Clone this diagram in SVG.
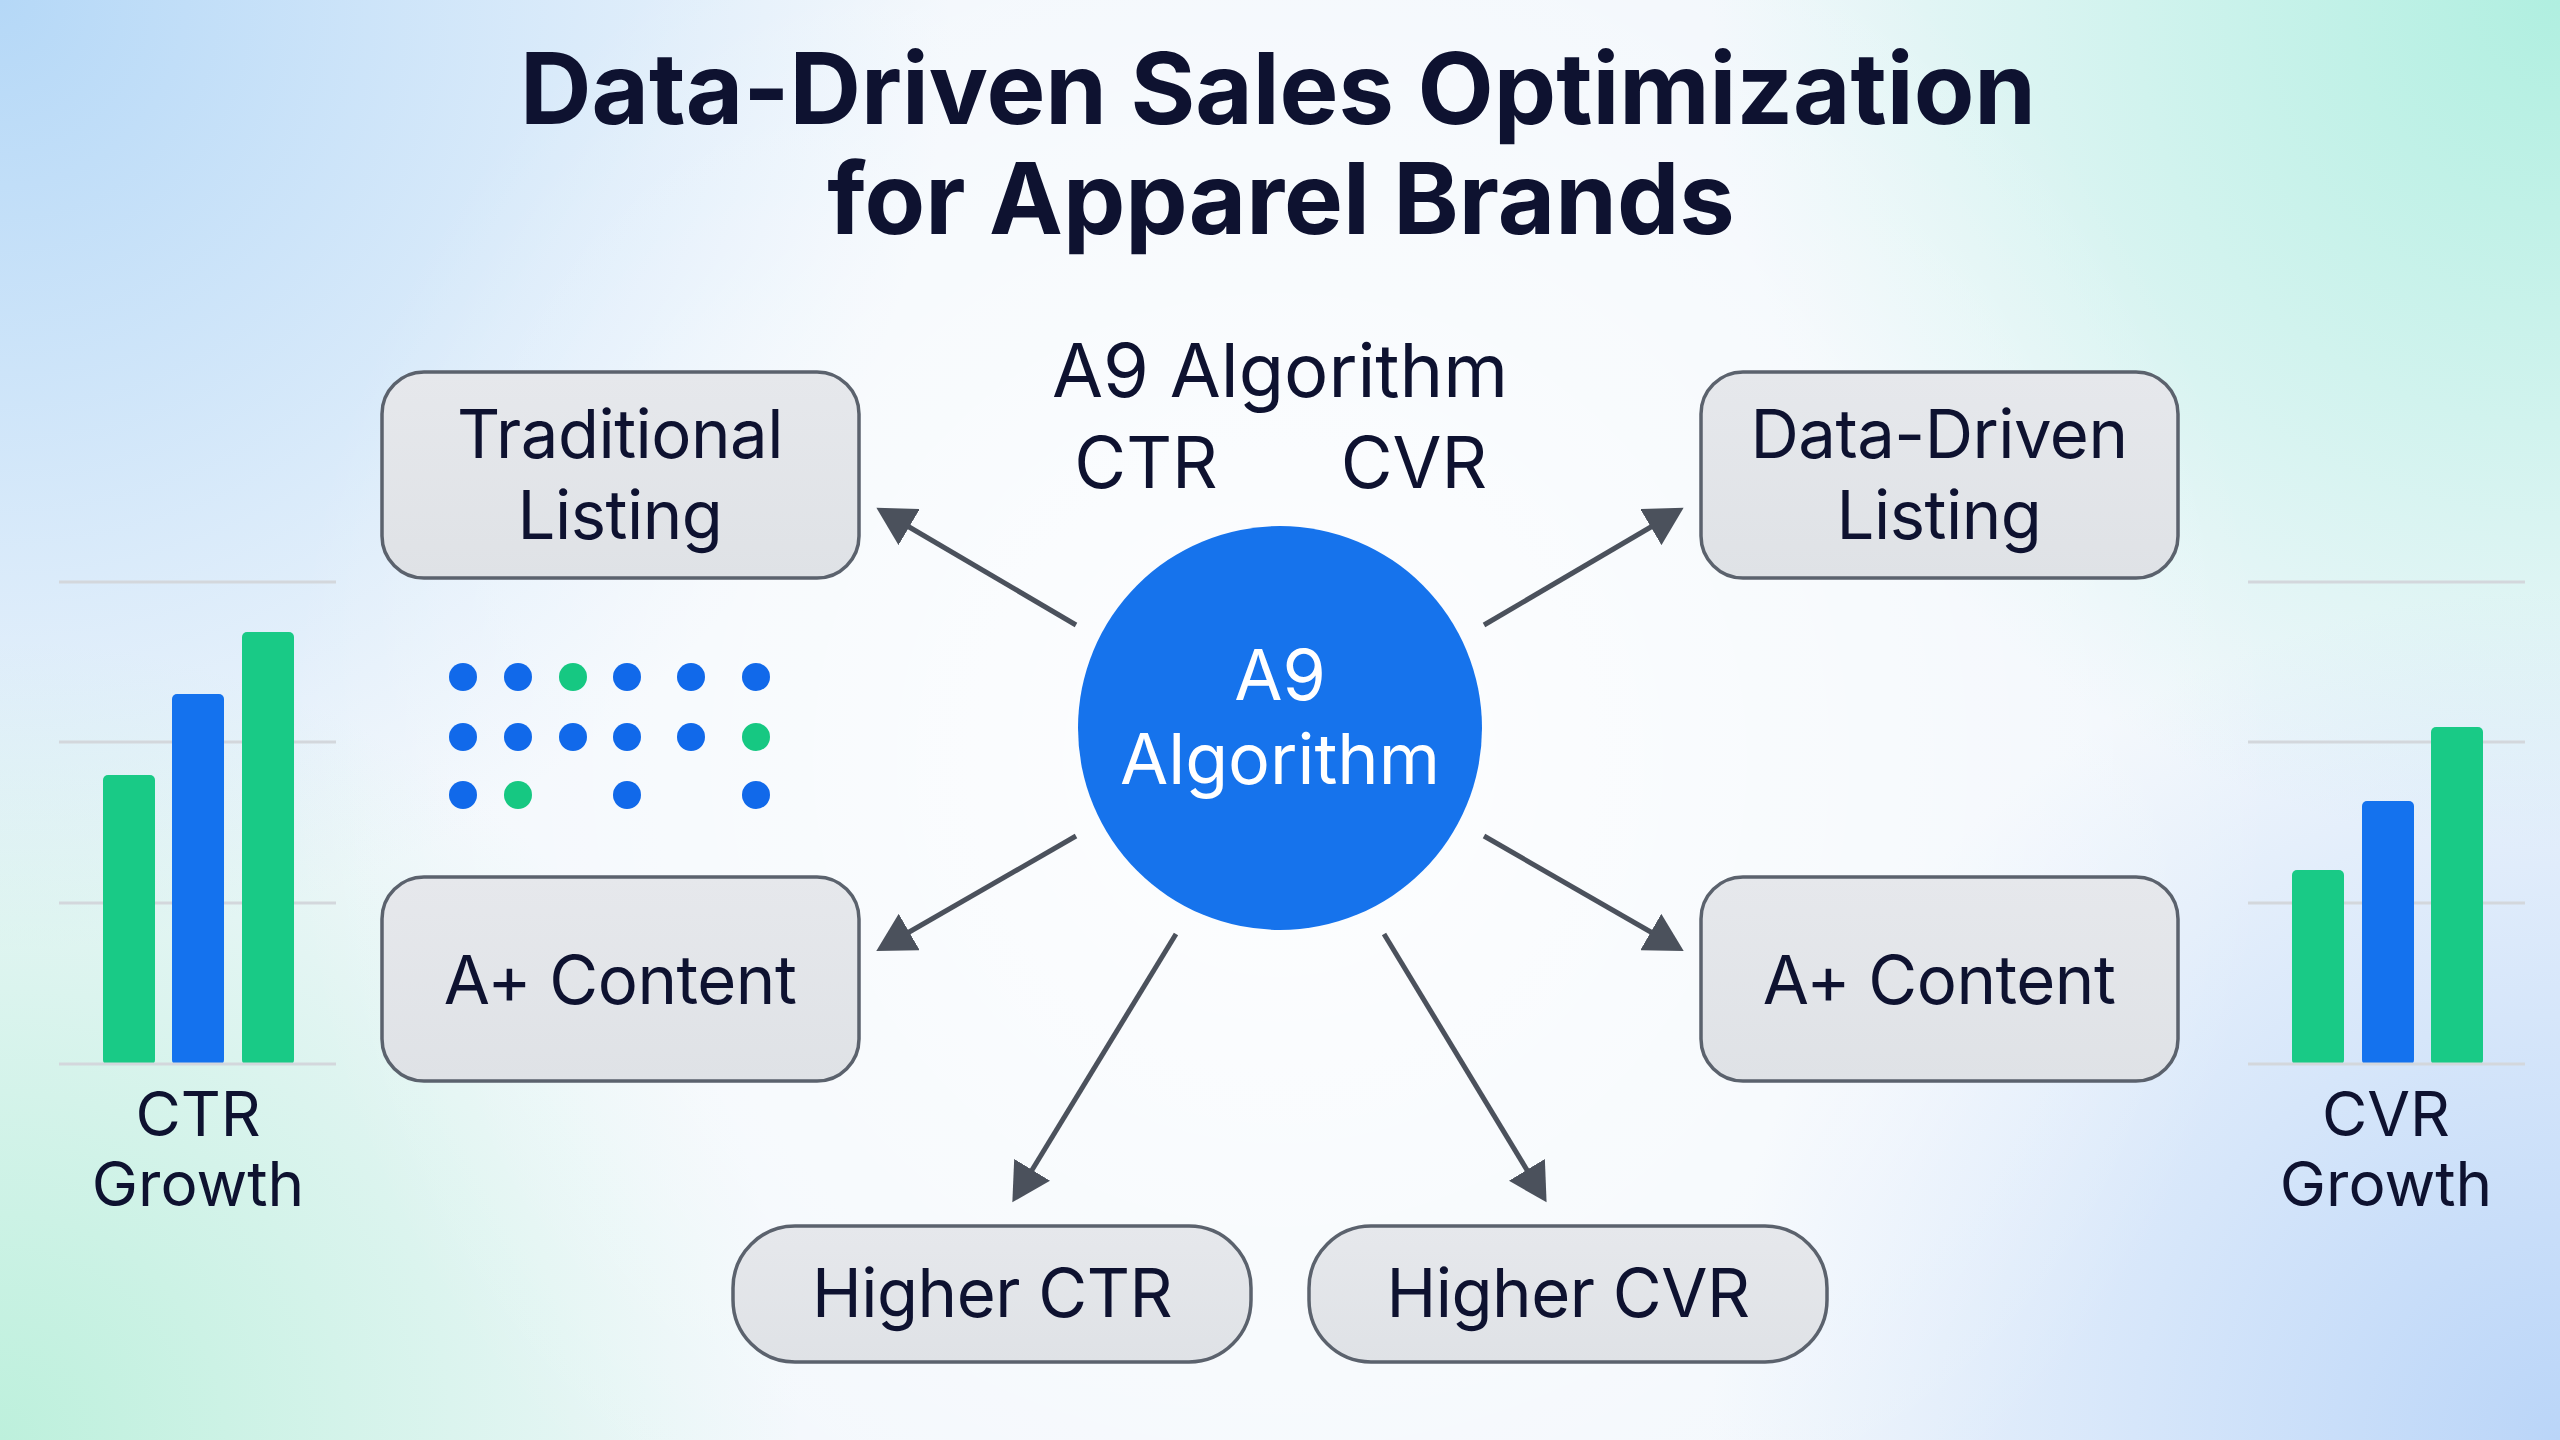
<svg xmlns="http://www.w3.org/2000/svg" width="2560" height="1440" viewBox="0 0 2560 1440">
  <defs>
    <radialGradient id="gTL" cx="0" cy="0" r="950" gradientUnits="userSpaceOnUse">
      <stop offset="0" stop-color="#b5d8f7"/>
      <stop offset="1" stop-color="#b5d8f7" stop-opacity="0"/>
    </radialGradient>
    <radialGradient id="gTR" cx="2560" cy="0" r="850" gradientUnits="userSpaceOnUse">
      <stop offset="0" stop-color="#b0efe0"/>
      <stop offset="1" stop-color="#b0efe0" stop-opacity="0"/>
    </radialGradient>
    <radialGradient id="gBL" cx="0" cy="1440" r="800" gradientUnits="userSpaceOnUse">
      <stop offset="0" stop-color="#bdf0dc"/>
      <stop offset="1" stop-color="#bdf0dc" stop-opacity="0"/>
    </radialGradient>
    <radialGradient id="gBR" cx="2560" cy="1440" r="850" gradientUnits="userSpaceOnUse">
      <stop offset="0" stop-color="#bad5f8"/>
      <stop offset="1" stop-color="#bad5f8" stop-opacity="0"/>
    </radialGradient>
    <radialGradient id="gC" cx="1280" cy="760" r="1000" gradientUnits="userSpaceOnUse">
      <stop offset="0" stop-color="#ffffff" stop-opacity="0.85"/>
      <stop offset="0.6" stop-color="#ffffff" stop-opacity="0.4"/>
      <stop offset="1" stop-color="#ffffff" stop-opacity="0"/>
    </radialGradient>
    <linearGradient id="boxFill" x1="0" y1="0" x2="0" y2="1">
      <stop offset="0" stop-color="#e6e8ec"/>
      <stop offset="1" stop-color="#dfe2e6"/>
    </linearGradient>
    <marker id="arrow" markerUnits="userSpaceOnUse" markerWidth="40" markerHeight="42" refX="6" refY="21" orient="auto">
      <path d="M0,0 L38,21 L0,42 Z" fill="#4b515c"/>
    </marker>
    <style>
      text { font-family: Inter, "Noto Sans", "Liberation Sans", sans-serif; fill: #0e1230; }
      .title { font-size: 99px; font-weight: 700; text-anchor: middle; }
      .sub { font-size: 74px; text-anchor: middle; }
      .sub2 { font-size: 71px; text-anchor: middle; }
      .lbl { font-size: 67px; text-anchor: middle; letter-spacing: -0.5px; }
      .cap { font-size: 62px; text-anchor: middle; }
      .circ { font-size: 70px; text-anchor: middle; fill: #ffffff; }
      .box { fill: url(#boxFill); stroke: #5b626d; stroke-width: 3.5; }
      .conn line { stroke: #4b515c; stroke-width: 5; marker-end: url(#arrow); }
      .grid { stroke: #d3d7dc; stroke-width: 3; }
      .blue { fill: #1169ea; }
      .green { fill: #16c882; }
      .bblue { fill: #1472ee; }
      .bgreen { fill: #19ca86; }
    </style>
  </defs>

  <!-- background -->
  <rect width="2560" height="1440" fill="#f2f7fc"/>
  <rect width="2560" height="1440" fill="url(#gTL)"/>
  <rect width="2560" height="1440" fill="url(#gTR)"/>
  <rect width="2560" height="1440" fill="url(#gBL)"/>
  <rect width="2560" height="1440" fill="url(#gBR)"/>
  <rect width="2560" height="1440" fill="url(#gC)"/>

  <!-- title -->
  <g id="title">
    <text class="title" x="1278" y="124">Data-Driven Sales Optimization</text>
    <text class="title" x="1281" y="234">for Apparel Brands</text>
  </g>

  <g id="a9-label">
    <text class="sub" x="1280" y="397">A9 Algorithm</text>
    <text class="sub2" x="1146" y="488">CTR</text>
    <text class="sub2" x="1414" y="488">CVR</text>
  </g>

  <!-- connectors -->
  <g id="connectors" class="conn">
    <line x1="1076" y1="625" x2="904" y2="524"/>
    <line x1="1484" y1="625" x2="1656" y2="524"/>
    <line x1="1076" y1="836" x2="904" y2="935"/>
    <line x1="1484" y1="836" x2="1656" y2="935"/>
    <line x1="1176" y1="934" x2="1029" y2="1175"/>
    <line x1="1384" y1="934" x2="1530" y2="1175"/>
  </g>

  <!-- center node -->
  <g id="node-a9">
    <circle cx="1280" cy="728" r="202" fill="#1673ec"/>
    <text class="circ" x="1280" y="700">A9</text>
    <text class="circ" x="1280" y="784">Algorithm</text>
  </g>

  <g id="node-traditional">
    <rect class="box" x="382" y="372" width="477" height="206" rx="42"/>
    <text class="lbl" x="620" y="458">Traditional</text>
    <text class="lbl" x="620" y="539">Listing</text>
  </g>

  <g id="node-datadriven">
    <rect class="box" x="1701" y="372" width="477" height="206" rx="42"/>
    <text class="lbl" x="1939" y="458">Data-Driven</text>
    <text class="lbl" x="1939" y="539">Listing</text>
  </g>

  <g id="node-aplus-left">
    <rect class="box" x="382" y="877" width="477" height="204" rx="42"/>
    <text class="lbl" x="620" y="1004">A+ Content</text>
  </g>

  <g id="node-aplus-right">
    <rect class="box" x="1701" y="877" width="477" height="204" rx="42"/>
    <text class="lbl" x="1939" y="1004">A+ Content</text>
  </g>

  <g id="node-higher-ctr">
    <rect class="box" x="733" y="1226" width="518" height="136" rx="62"/>
    <text class="lbl" x="992" y="1317">Higher CTR</text>
  </g>

  <g id="node-higher-cvr">
    <rect class="box" x="1309" y="1226" width="518" height="136" rx="62"/>
    <text class="lbl" x="1568" y="1317">Higher CVR</text>
  </g>

  <!-- data dots -->
  <g id="dots">
    <circle class="blue" cx="463" cy="677" r="14"/>
    <circle class="blue" cx="518" cy="677" r="14"/>
    <circle class="green" cx="573" cy="677" r="14"/>
    <circle class="blue" cx="627" cy="677" r="14"/>
    <circle class="blue" cx="691" cy="677" r="14"/>
    <circle class="blue" cx="756" cy="677" r="14"/>
    <circle class="blue" cx="463" cy="737" r="14"/>
    <circle class="blue" cx="518" cy="737" r="14"/>
    <circle class="blue" cx="573" cy="737" r="14"/>
    <circle class="blue" cx="627" cy="737" r="14"/>
    <circle class="blue" cx="691" cy="737" r="14"/>
    <circle class="green" cx="756" cy="737" r="14"/>
    <circle class="blue" cx="463" cy="795" r="14"/>
    <circle class="green" cx="518" cy="795" r="14"/>
    <circle class="blue" cx="627" cy="795" r="14"/>
    <circle class="blue" cx="756" cy="795" r="14"/>
  </g>

  <!-- CTR growth chart -->
  <g id="chart-ctr">
    <line class="grid" x1="59" y1="582" x2="336" y2="582"/>
    <line class="grid" x1="59" y1="742" x2="336" y2="742"/>
    <line class="grid" x1="59" y1="903" x2="336" y2="903"/>
    <rect class="bgreen" x="103" y="775" width="52" height="290" rx="5"/>
    <rect class="bblue" x="172" y="694" width="52" height="371" rx="5"/>
    <rect class="bgreen" x="242" y="632" width="52" height="433" rx="5"/>
    <line class="grid" x1="59" y1="1064" x2="336" y2="1064"/>
    <text class="cap" x="198" y="1136">CTR</text>
    <text class="cap" x="198" y="1206">Growth</text>
  </g>

  <!-- CVR growth chart -->
  <g id="chart-cvr">
    <line class="grid" x1="2248" y1="582" x2="2525" y2="582"/>
    <line class="grid" x1="2248" y1="742" x2="2525" y2="742"/>
    <line class="grid" x1="2248" y1="903" x2="2525" y2="903"/>
    <rect class="bgreen" x="2292" y="870" width="52" height="195" rx="5"/>
    <rect class="bblue" x="2362" y="801" width="52" height="264" rx="5"/>
    <rect class="bgreen" x="2431" y="727" width="52" height="338" rx="5"/>
    <line class="grid" x1="2248" y1="1064" x2="2525" y2="1064"/>
    <text class="cap" x="2386" y="1136">CVR</text>
    <text class="cap" x="2386" y="1206">Growth</text>
  </g>
</svg>
